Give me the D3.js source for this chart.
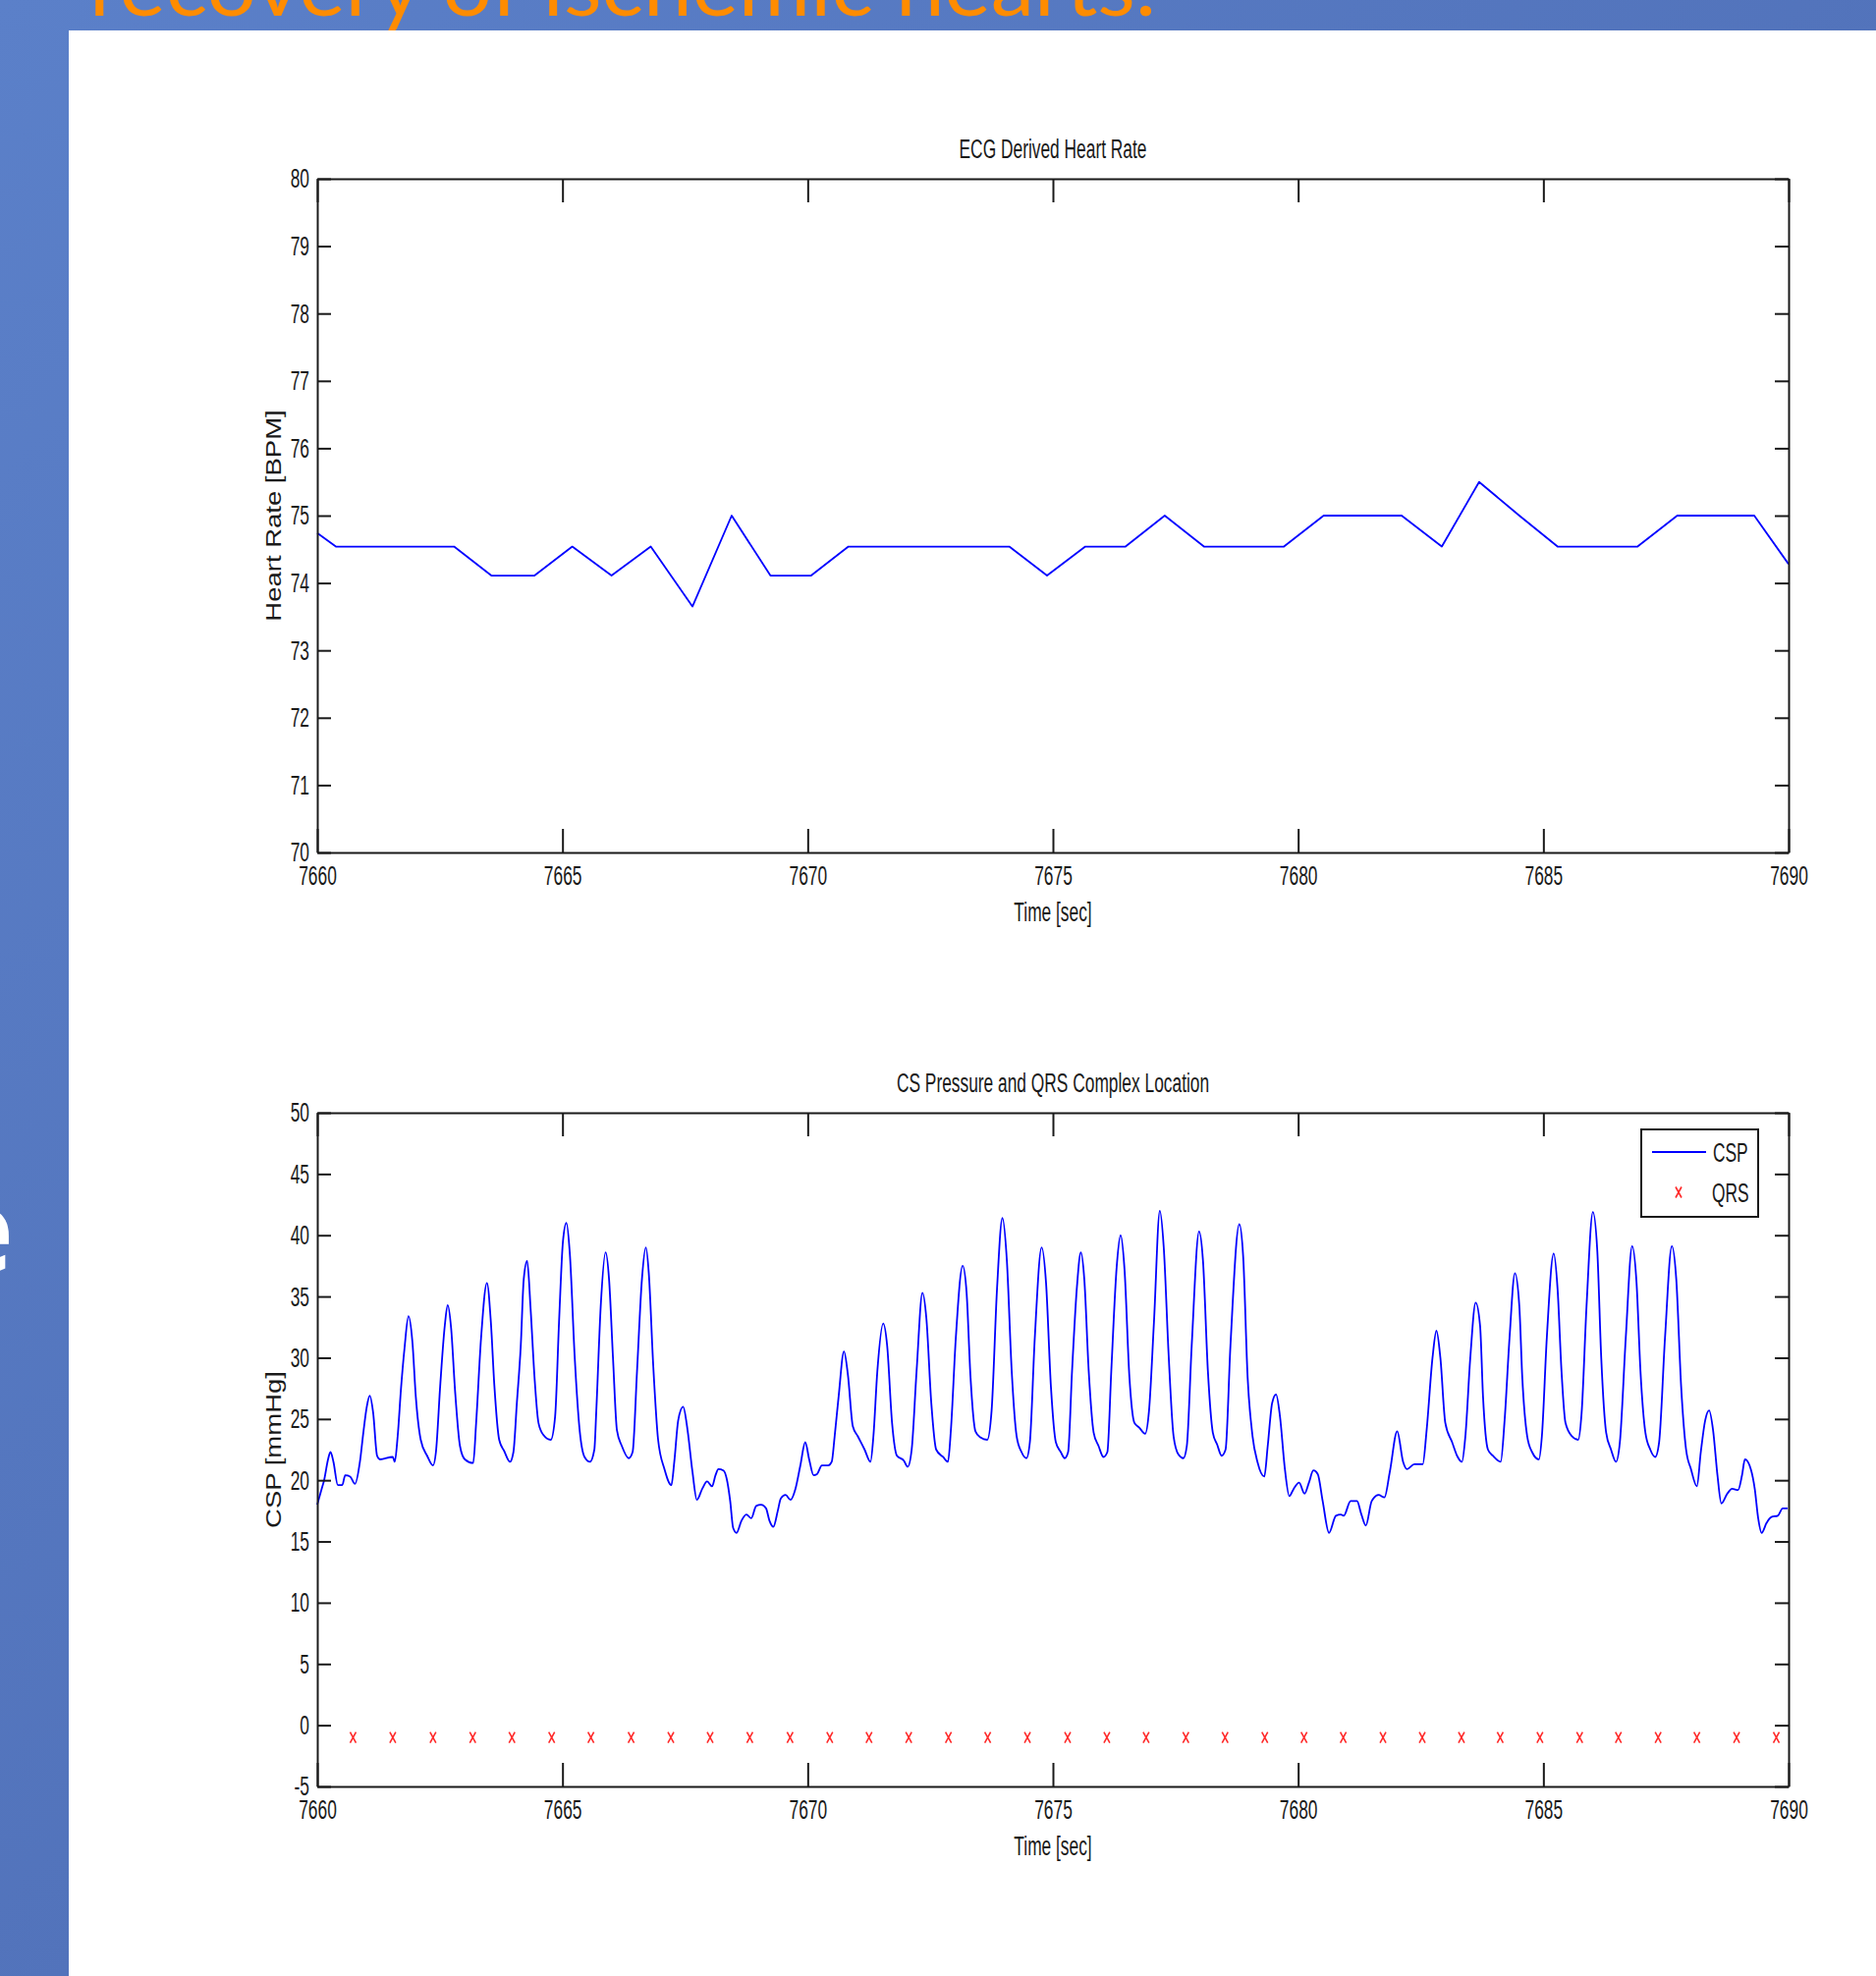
<!DOCTYPE html>
<html>
<head>
<meta charset="utf-8">
<script src="https://cdn.jsdelivr.net/npm/d3@7"></script>
<style>
  html, body { margin: 0; padding: 0; background: #fff; }
  svg { display: block; }
  .mat { font-family: "Liberation Sans", Arial, sans-serif; fill: #1a1a1a; }
</style>
</head>
<body>
<svg id="slide" width="1910" height="2012"></svg>
<script>
// ---- data ----
const xTicks = [7660, 7665, 7670, 7675, 7680, 7685, 7690];
const hrTicks = [70, 71, 72, 73, 74, 75, 76, 77, 78, 79, 80];
const cspTicks = [-5, 0, 5, 10, 15, 20, 25, 30, 35, 40, 45, 50];

// ECG derived heart rate (vertices of the polyline)
const hrTime = [7660, 7660.38, 7662.79, 7663.55, 7664.43, 7665.20, 7666.00, 7666.80, 7667.65, 7668.45,
  7669.24, 7670.07, 7670.83, 7674.11, 7674.88, 7675.66, 7676.48, 7677.28, 7678.08, 7679.71,
  7680.52, 7682.11, 7682.93, 7683.69, 7684.51, 7685.29, 7686.92, 7687.73, 7689.30, 7690];
const hrBpm = [74.74, 74.54, 74.54, 74.11, 74.11, 74.54, 74.11, 74.54, 73.65, 75.0,
  74.11, 74.11, 74.54, 74.54, 74.11, 74.54, 74.54, 75.0, 74.54, 74.54,
  75.0, 75.0, 74.54, 75.5, 75.0, 74.54, 74.54, 75.0, 75.0, 74.28];

// CS pressure trace
const cspTime = [
  7660.00, 7660.09, 7660.14, 7660.22, 7660.27, 7660.33, 7660.42, 7660.51, 7660.57, 7660.67,
  7660.77, 7660.87, 7660.94, 7661.01, 7661.07, 7661.14, 7661.22, 7661.28, 7661.54, 7661.58,
  7661.64, 7661.71, 7661.78, 7661.86, 7661.94, 7662.01, 7662.11, 7662.24, 7662.36, 7662.42,
  7662.51, 7662.60, 7662.66, 7662.73, 7662.81, 7662.91, 7663.01, 7663.18, 7663.24, 7663.34,
  7663.46, 7663.54, 7663.61, 7663.71, 7663.81, 7663.93, 7664.00, 7664.07, 7664.15, 7664.21,
  7664.28, 7664.35, 7664.43, 7664.51, 7664.61, 7664.76, 7664.85, 7664.93, 7665.01, 7665.08,
  7665.15, 7665.25, 7665.35, 7665.45, 7665.56, 7665.65, 7665.69, 7665.78, 7665.88, 7665.95,
  7666.03, 7666.11, 7666.21, 7666.35, 7666.43, 7666.52, 7666.62, 7666.70, 7666.76, 7666.85,
  7666.95, 7667.08, 7667.22, 7667.28, 7667.36, 7667.46, 7667.55, 7667.65, 7667.74, 7667.85,
  7667.95, 7668.05, 7668.12, 7668.18, 7668.28, 7668.35, 7668.42, 7668.48, 7668.55, 7668.65,
  7668.75, 7668.85, 7668.95, 7669.05, 7669.15, 7669.22, 7669.30, 7669.39, 7669.45, 7669.55,
  7669.65, 7669.75, 7669.85, 7669.95, 7670.03, 7670.12, 7670.19, 7670.29, 7670.42, 7670.49,
  7670.55, 7670.63, 7670.74, 7670.82, 7670.92, 7671.02, 7671.16, 7671.28, 7671.34, 7671.42,
  7671.54, 7671.62, 7671.72, 7671.82, 7671.96, 7672.04, 7672.12, 7672.22, 7672.34, 7672.42,
  7672.52, 7672.62, 7672.76, 7672.86, 7672.92, 7673.02, 7673.16, 7673.24, 7673.32, 7673.42,
  7673.52, 7673.66, 7673.75, 7673.86, 7673.97, 7674.06, 7674.16, 7674.26, 7674.36, 7674.46,
  7674.53, 7674.63, 7674.77, 7674.86, 7674.96, 7675.06, 7675.16, 7675.24, 7675.31, 7675.39,
  7675.49, 7675.57, 7675.64, 7675.73, 7675.83, 7675.93, 7676.03, 7676.11, 7676.19, 7676.30,
  7676.38, 7676.46, 7676.56, 7676.66, 7676.76, 7676.88, 7676.96, 7677.06, 7677.18, 7677.26,
  7677.36, 7677.46, 7677.56, 7677.66, 7677.73, 7677.83, 7677.98, 7678.06, 7678.16, 7678.26,
  7678.35, 7678.44, 7678.52, 7678.62, 7678.80, 7678.88, 7678.97, 7679.07, 7679.17, 7679.31,
  7679.38, 7679.47, 7679.55, 7679.63, 7679.73, 7679.82, 7679.91, 7680.02, 7680.13, 7680.22,
  7680.31, 7680.40, 7680.50, 7680.63, 7680.77, 7680.87, 7680.93, 7681.07, 7681.20, 7681.29,
  7681.38, 7681.50, 7681.64, 7681.76, 7681.87, 7682.02, 7682.14, 7682.22, 7682.37, 7682.54,
  7682.62, 7682.74, 7682.82, 7682.90, 7683.00, 7683.14, 7683.24, 7683.34, 7683.41, 7683.51,
  7683.62, 7683.71, 7683.77, 7683.87, 7683.97, 7684.13, 7684.21, 7684.31, 7684.42, 7684.51,
  7684.57, 7684.67, 7684.77, 7684.91, 7684.97, 7685.07, 7685.21, 7685.29, 7685.37, 7685.45,
  7685.58, 7685.71, 7685.78, 7685.88, 7686.01, 7686.10, 7686.18, 7686.28, 7686.38, 7686.48,
  7686.56, 7686.68, 7686.81, 7686.90, 7686.98, 7687.08, 7687.18, 7687.28, 7687.36, 7687.48,
  7687.62, 7687.71, 7687.81, 7687.91, 7688.01, 7688.13, 7688.21, 7688.30, 7688.38, 7688.46,
  7688.55, 7688.63, 7688.75, 7688.85, 7688.97, 7689.05, 7689.11, 7689.23, 7689.31, 7689.38,
  7689.45, 7689.55, 7689.65, 7689.78, 7689.88, 7689.98];
const cspValue = [
  18.0, 19.3, 20.0, 21.7, 22.3, 21.5, 19.6, 19.6, 20.4, 20.3,
  19.7, 21.5, 23.9, 26.0, 26.9, 25.5, 22.0, 21.7, 21.9, 21.5,
  23.6, 27.6, 30.8, 33.4, 31.3, 26.8, 23.3, 22.0, 21.2, 22.3,
  27.9, 32.6, 34.3, 32.4, 27.3, 22.8, 21.7, 21.4, 24.7, 31.6,
  36.1, 32.9, 27.8, 23.3, 22.4, 21.5, 22.3, 26.3, 31.0, 36.4,
  37.9, 34.0, 28.4, 24.7, 23.7, 23.3, 25.2, 32.9, 39.5, 41.0,
  38.5, 30.0, 24.1, 21.9, 21.5, 22.5, 25.7, 34.2, 38.6, 36.4,
  30.0, 24.1, 22.8, 21.8, 22.3, 28.9, 36.4, 39.0, 36.9, 29.4,
  23.3, 20.9, 19.6, 21.5, 24.9, 26.0, 24.1, 20.7, 18.4, 19.3,
  19.9, 19.5, 20.4, 20.9, 20.8, 20.1, 18.3, 16.1, 15.7, 16.7,
  17.2, 16.9, 17.9, 18.0, 17.7, 16.7, 16.2, 17.5, 18.5, 18.8,
  18.4, 19.3, 21.2, 23.1, 21.7, 20.4, 20.5, 21.2, 21.2, 21.5,
  23.6, 26.8, 30.5, 28.6, 24.4, 23.6, 22.5, 21.5, 23.6, 28.9,
  32.8, 31.0, 24.7, 22.0, 21.6, 21.1, 22.5, 28.9, 35.3, 33.2,
  26.3, 22.5, 21.9, 21.5, 24.1, 31.6, 37.5, 35.3, 28.4, 24.0,
  23.5, 23.3, 25.7, 35.6, 41.4, 38.0, 28.9, 23.6, 22.3, 21.8,
  23.1, 31.6, 39.0, 36.1, 27.6, 23.1, 22.3, 21.8, 22.3, 28.9,
  35.8, 38.6, 36.4, 28.9, 23.9, 22.8, 21.9, 22.3, 28.9, 37.4,
  40.0, 37.2, 28.4, 24.7, 24.3, 23.8, 25.7, 32.9, 42.0, 39.0,
  30.2, 23.6, 22.1, 21.8, 22.8, 31.0, 40.3, 37.9, 28.9, 23.9,
  22.9, 22.0, 22.5, 31.0, 40.9, 38.2, 28.4, 23.6, 21.5, 20.3,
  22.8, 26.3, 27.0, 25.2, 20.9, 18.7, 19.3, 19.8, 18.9, 19.8,
  20.8, 20.5, 18.3, 15.7, 17.1, 17.2, 17.1, 18.3, 18.3, 17.2,
  16.3, 18.3, 18.8, 18.6, 20.7, 24.0, 21.5, 20.9, 21.3, 21.3,
  24.1, 30.0, 32.2, 30.0, 24.7, 23.1, 22.0, 21.5, 23.6, 30.0,
  34.5, 32.6, 26.8, 22.5, 22.0, 21.5, 24.9, 31.6, 36.9, 34.2,
  28.4, 23.6, 22.3, 21.7, 23.6, 31.6, 38.5, 35.6, 28.9, 24.7,
  23.6, 23.3, 25.5, 34.2, 41.9, 38.7, 30.0, 23.9, 22.5, 21.5,
  23.1, 31.6, 39.1, 36.1, 28.9, 23.9, 22.5, 21.9, 23.1, 31.6,
  39.1, 36.4, 27.6, 22.5, 20.9, 19.5, 22.3, 24.9, 25.7, 24.1,
  20.4, 18.1, 18.9, 19.3, 19.2, 20.4, 21.7, 20.9, 19.3, 16.9,
  15.7, 16.5, 17.0, 17.1, 17.7, 17.7];

// QRS complex locations (drawn at a fixed level)
const qrsTime = [7660.73, 7661.54, 7662.36, 7663.17, 7663.97, 7664.78, 7665.58, 7666.40, 7667.21, 7668.01,
  7668.82, 7669.64, 7670.45, 7671.25, 7672.06, 7672.87, 7673.67, 7674.48, 7675.30, 7676.10,
  7676.90, 7677.71, 7678.51, 7679.32, 7680.12, 7680.92, 7681.73, 7682.53, 7683.33, 7684.12,
  7684.93, 7685.74, 7686.53, 7687.34, 7688.13, 7688.94, 7689.75];
const qrsLevel = -1;

// ---- layout ----
const plotLeft = 323, plotRight = 1821;
const COND = 0.62; // MATLAB text in the picture is horizontally squeezed

const svg = d3.select('#slide');

// slide background
const defs = svg.append('defs');
const grad = defs.append('linearGradient').attr('id', 'bg')
    .attr('x1', 0).attr('y1', 0).attr('x2', 1).attr('y2', 1);
grad.append('stop').attr('offset', '0%').attr('stop-color', '#5b80c9');
grad.append('stop').attr('offset', '100%').attr('stop-color', '#4a67ae');
svg.append('rect').attr('width', 1910).attr('height', 2012).attr('fill', 'url(#bg)');

svg.append('text')
    .attr('x', 91).attr('y', 16)
    .attr('textLength', 1086).attr('lengthAdjust', 'spacingAndGlyphs')
    .style('font-family', 'Lato, "Open Sans", sans-serif')
    .style('font-size', '86px')
    .attr('fill', '#ff8c00')
    .text('recovery of ischemic hearts.');

svg.append('text')
    .attr('x', 14).attr('y', 1295)
    .attr('text-anchor', 'end')
    .style('font-family', '"Open Sans", sans-serif')
    .style('font-weight', 'bold')
    .style('font-size', '118px')
    .attr('fill', '#ffffff')
    .text('e');

svg.append('rect').attr('x', 70).attr('y', 31).attr('width', 1840).attr('height', 1981).attr('fill', '#ffffff');

function squeezeText(g, x, y, str, anchor) {
    return g.append('text')
        .attr('class', 'mat')
        .attr('x', 0).attr('y', 0)
        .attr('text-anchor', anchor || 'middle')
        .attr('transform', `translate(${x},${y}) scale(${COND},1)`)
        .style('font-size', '28px')
        .text(str);
}

function drawPanel(cfg) {
    const x = d3.scaleLinear().domain([7660, 7690]).range([plotLeft, plotRight]);
    const y = d3.scaleLinear().domain(cfg.yDomain).range([cfg.bottom, cfg.top]);
    const g = svg.append('g');

    // series first, box on top
    g.append('path')
        .datum(cfg.xs.map((t, i) => [t, cfg.ys[i]]))
        .attr('fill', 'none')
        .attr('stroke', '#0000ff')
        .attr('stroke-width', 1.8)
        .attr('stroke-linejoin', 'round')
        .attr('d', d3.line().x(d => x(d[0])).y(d => y(d[1])).curve(cfg.curve || d3.curveLinear));

    if (cfg.markers) {
        g.selectAll('.qrs')
            .data(cfg.markers)
            .enter()
            .append('path')
            .attr('class', 'qrs')
            .attr('transform', d => `translate(${x(d)},${y(qrsLevel)})`)
            .attr('d', 'M-3,-5.5L3,5.5M-3,5.5L3,-5.5')
            .attr('stroke', '#ff2a2a')
            .attr('stroke-width', 1.6)
            .attr('fill', 'none');
    }

    const styleAxis = sel => {
        sel.selectAll('path, line').attr('stroke', '#1a1a1a').attr('stroke-width', 2);
        sel.attr('font-family', null).attr('font-size', null);
    };

    const bottom = g.append('g')
        .attr('transform', `translate(0,${cfg.bottom})`)
        .call(d3.axisBottom(x).tickValues(xTicks).tickSizeInner(-24).tickSizeOuter(0).tickPadding(13)
            .tickFormat(d => String(d)))
        .call(styleAxis);
    bottom.selectAll('text').attr('class', 'mat').style('font-size', '28px')
        .attr('transform', `scale(${COND},1)`);

    g.append('g')
        .attr('transform', `translate(0,${cfg.top})`)
        .call(d3.axisTop(x).tickValues(xTicks).tickSizeInner(-24).tickSizeOuter(0).tickFormat(''))
        .call(styleAxis);

    const left = g.append('g')
        .attr('transform', `translate(${plotLeft},0)`)
        .call(d3.axisLeft(y).tickValues(cfg.yTicks).tickSizeInner(-14).tickSizeOuter(0).tickPadding(8)
            .tickFormat(d => String(d)))
        .call(styleAxis);
    left.selectAll('text').attr('class', 'mat').style('font-size', '28px')
        .attr('x', 0).attr('transform', `translate(-8,0) scale(${COND},1)`);

    g.append('g')
        .attr('transform', `translate(${plotRight},0)`)
        .call(d3.axisRight(y).tickValues(cfg.yTicks).tickSizeInner(-14).tickSizeOuter(0).tickFormat(''))
        .call(styleAxis);

    const mid = (plotLeft + plotRight) / 2;
    squeezeText(g, mid, cfg.top - 21, cfg.title);
    squeezeText(g, mid, cfg.bottom + 70, 'Time [sec]');

    g.append('text')
        .attr('class', 'mat')
        .attr('text-anchor', 'middle')
        .attr('transform', `translate(286,${(cfg.top + cfg.bottom) / 2}) rotate(-90) scale(1.25,1)`)
        .style('font-size', '22px')
        .text(cfg.yLabel);

    return { g, x, y };
}

drawPanel({
    top: 182, bottom: 868,
    yDomain: [70, 80], yTicks: hrTicks,
    xs: hrTime, ys: hrBpm,
    title: 'ECG Derived Heart Rate',
    yLabel: 'Heart Rate [BPM]'
});

const p2 = drawPanel({
    top: 1133, bottom: 1819,
    yDomain: [-5, 50], yTicks: cspTicks,
    xs: cspTime, ys: cspValue,
    curve: d3.curveMonotoneX,
    markers: qrsTime,
    title: 'CS Pressure and QRS Complex Location',
    yLabel: 'CSP [mmHg]'
});

// legend
const lg = p2.g.append('g');
lg.append('rect').attr('x', 1671).attr('y', 1150).attr('width', 119).attr('height', 89)
    .attr('fill', '#fff').attr('stroke', '#1a1a1a').attr('stroke-width', 2);
lg.append('line').attr('x1', 1682).attr('x2', 1737).attr('y1', 1173).attr('y2', 1173)
    .attr('stroke', '#0000ff').attr('stroke-width', 1.8);
lg.append('path').attr('transform', 'translate(1709,1214)')
    .attr('d', 'M-3,-5.5L3,5.5M-3,5.5L3,-5.5')
    .attr('stroke', '#ff2a2a').attr('stroke-width', 1.6).attr('fill', 'none');
squeezeText(lg, 1744, 1183, 'CSP', 'start');
squeezeText(lg, 1743, 1224, 'QRS', 'start');
</script>
</body>
</html>
